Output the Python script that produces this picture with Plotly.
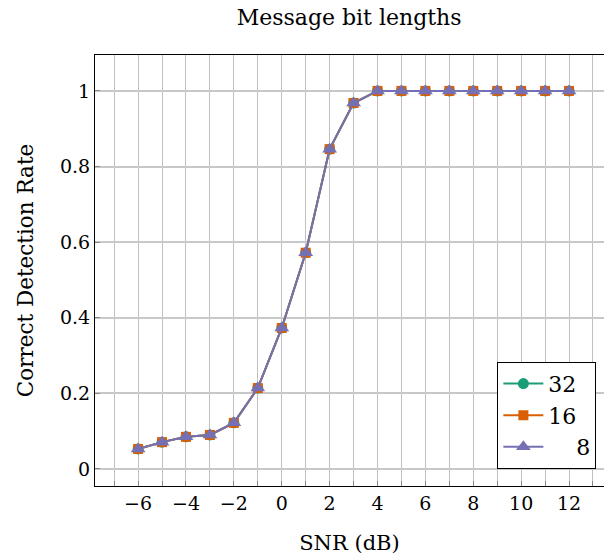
import plotly.graph_objects as go

snr_db = [-6, -5, -4, -3, -2, -1, 0, 1, 2, 3, 4, 5, 6, 7, 8, 9, 10, 11, 12]
rate_32 = [0.053, 0.071, 0.085, 0.090, 0.122, 0.214, 0.373, 0.572, 0.846, 0.968,
           1.0, 1.0, 1.0, 1.0, 1.0, 1.0, 1.0, 1.0, 1.0]
rate_16 = [0.053, 0.071, 0.085, 0.090, 0.122, 0.214, 0.373, 0.572, 0.846, 0.968,
           1.0, 1.0, 1.0, 1.0, 1.0, 1.0, 1.0, 1.0, 1.0]
rate_8 = [0.053, 0.071, 0.085, 0.090, 0.122, 0.214, 0.373, 0.572, 0.846, 0.968,
          1.0, 1.0, 1.0, 1.0, 1.0, 1.0, 1.0, 1.0, 1.0]

series = [
    ("32", rate_32, "#1b9e77", "circle", 11),
    ("16", rate_16, "#d95f02", "square", 10),
    ("\u2007\u20078", rate_8, "#7570b3", "triangle-up", 13),
]

x_tickvals = [-6, -4, -2, 0, 2, 4, 6, 8, 10, 12]
x_ticktext = ["\u22126", "\u22124", "\u22122", "0", "2", "4", "6", "8", "10", "12"]
y_tickvals = [0, 0.2, 0.4, 0.6, 0.8, 1]
y_ticktext = ["0", "0.2", "0.4", "0.6", "0.8", "1"]

FONT = "DejaVu Serif"

fig = go.Figure()
for name, vals, color, symbol, size in series:
    fig.add_trace(go.Scatter(
        x=snr_db, y=vals, name=name, mode="lines+markers",
        line=dict(color=color, width=2),
        marker=dict(symbol=symbol, size=size, color=color),
    ))

# Grid at every integer dB, labels every 2 dB
fig.update_xaxes(
    range=[-7.8, 13.46],
    tickvals=x_tickvals, ticktext=x_ticktext,
    showgrid=True, gridcolor="#c0c0c0", gridwidth=1,
    minor=dict(dtick=1, tick0=0, showgrid=True, gridcolor="#c0c0c0", gridwidth=1,
               ticks="inside", ticklen=5, tickcolor="#888"),
    ticks="inside", ticklen=5, tickcolor="#888",
    showline=True, mirror=True, linecolor="black", linewidth=1,
    zeroline=False,
    tickfont=dict(family=FONT, size=19, color="black"),
    title=dict(text="SNR (dB)", font=dict(family=FONT, size=21, color="black"), standoff=22),
)
fig.update_yaxes(
    range=[-0.045, 1.095],
    tickvals=y_tickvals, ticktext=y_ticktext,
    showgrid=True, gridcolor="#c8c8c8", gridwidth=1.5,
    ticks="inside", ticklen=5, tickcolor="#888",
    showline=True, mirror=True, linecolor="black", linewidth=1,
    zeroline=False,
    tickfont=dict(family=FONT, size=19, color="black"),
    title=dict(text="Correct Detection Rate", font=dict(family=FONT, size=21.5, color="black"), standoff=20),
)

fig.update_layout(
    width=604, height=560,
    margin=dict(l=95, r=0, t=55, b=74),
    paper_bgcolor="white", plot_bgcolor="white",
    title=dict(text="Message bit lengths", x=0.578, xanchor="center", y=0.97, yanchor="middle",
               font=dict(family=FONT, size=22, color="black")),
    legend=dict(
        x=0.985, y=0.04, xanchor="right", yanchor="bottom",
        bordercolor="black", borderwidth=1, bgcolor="white",
        font=dict(family=FONT, size=22, color="black"),
        tracegroupgap=0, itemwidth=40,
    ),
    showlegend=True,
)

fig.write_html("out.html")
